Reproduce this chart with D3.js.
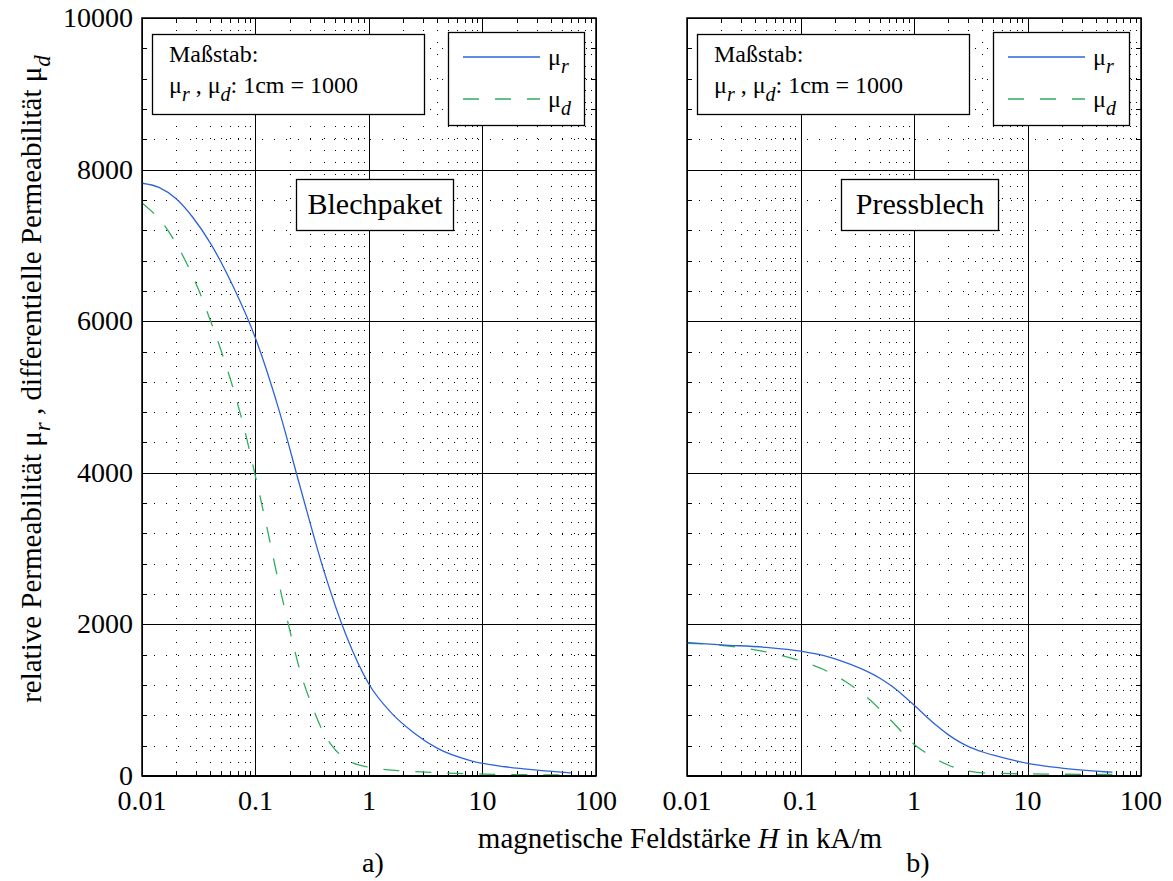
<!DOCTYPE html>
<html><head><meta charset="utf-8">
<script src="https://cdn.jsdelivr.net/npm/d3@7"></script>
<style>
body{margin:0;background:#fff}
svg text{font-family:"Liberation Serif","Times New Roman",serif;fill:#000}
</style></head><body>
<svg id="chart" width="1173" height="881"></svg>
<script>
// Axis ticks
const xTickValues = [0.01, 0.1, 1, 10, 100];
const xTickLabels = ["0.01", "0.1", "1", "10", "100"];
const yTickValues = [0, 2000, 4000, 6000, 8000, 10000];
const yTickLabels = ["0", "2000", "4000", "6000", "8000", "10000"];

// a) Blechpaket: field strength H (kA/m) and permeabilities
const blechH_r  = [0.01, 0.0141, 0.02, 0.0282, 0.04, 0.063, 0.1, 0.158, 0.251, 0.398, 0.631, 1, 1.58, 2.51, 3.98, 7.94, 15.8, 31.6, 60];
const blechMuR  = [7820, 7765, 7615, 7365, 7030, 6470, 5775, 4870, 3780, 2720, 1850, 1210, 830, 565, 367, 200, 122, 75, 42];
const blechH_d  = [0.01, 0.0158, 0.0251, 0.0316, 0.0398, 0.0501, 0.0631, 0.0794, 0.1, 0.126, 0.158, 0.2, 0.251, 0.316, 0.398, 0.501, 0.631, 1, 2, 4, 10, 60];
const blechMuD  = [7560, 7260, 6745, 6410, 6020, 5600, 5130, 4590, 3950, 3280, 2590, 1930, 1350, 920, 570, 352, 222, 115, 68, 43, 26, 12];

// b) Pressblech
const pressH_r  = [0.01, 0.02, 0.05, 0.1, 0.158, 0.251, 0.398, 0.501, 0.631, 0.794, 1, 1.26, 1.58, 2, 2.51, 3.16, 3.98, 5.01, 6.31, 7.94, 10, 20, 56];
const pressMuR  = [1760, 1730, 1697, 1648, 1590, 1495, 1370, 1290, 1190, 1070, 937, 796, 666, 546, 450, 375, 320, 275, 235, 200, 168, 105, 50];
const pressH_d  = [0.01, 0.02, 0.0398, 0.0631, 0.1, 0.158, 0.251, 0.316, 0.398, 0.501, 0.631, 0.794, 1, 1.26, 1.58, 2, 2.51, 3.16, 3.98, 7.94, 56];
const pressMuD  = [1751, 1725, 1665, 1602, 1518, 1408, 1243, 1138, 1020, 880, 728, 570, 420, 310, 220, 145, 92, 60, 42, 30, 20];

const panelNames = ["Blechpaket", "Pressblech"];
const panelTags = ["a)", "b)"];

const colR = "#2d63d8";
const colD = "#2fae5f";
const FONT_TICK = 28, FONT_TITLE = 29;

const svg = d3.select("#chart");
svg.append("rect").attr("width", 1173).attr("height", 881).attr("fill", "#fff");

const plotTop = 18, plotBottom = 776;
const panels = [
  {x0: 142, x1: 596, name: panelNames[0], tag: panelTags[0],
   r: blechH_r.map((h, i) => ({h, v: blechMuR[i]})),
   d: blechH_d.map((h, i) => ({h, v: blechMuD[i]})), yLabels: true},
  {x0: 687, x1: 1141, name: panelNames[1], tag: panelTags[1],
   r: pressH_r.map((h, i) => ({h, v: pressMuR[i]})),
   d: pressH_d.map((h, i) => ({h, v: pressMuD[i]})), yLabels: false}
];

const minorX = [];
[0.01, 0.1, 1, 10].forEach(dec => { for (let k = 2; k <= 9; k++) minorX.push(k * dec); });
const minorY = d3.range(0, 10001, 400).filter(v => v % 2000 !== 0);
const minorYTicks = d3.range(0, 10001, 400);

const px = v => Math.round(v) + 0.5;

panels.forEach((p, pi) => {
  const x = d3.scaleLog().domain([0.01, 100]).range([p.x0, p.x1]);
  const y = d3.scaleLinear().domain([0, 10000]).range([plotBottom, plotTop]);
  const g = svg.append("g");

  const clipId = "clip" + pi;
  svg.append("defs").append("clipPath").attr("id", clipId)
    .append("rect").attr("x", p.x0).attr("y", plotTop).attr("width", p.x1 - p.x0).attr("height", plotBottom - plotTop);

  // dotted minor grid
  g.selectAll(".mgx").data(minorX).join("line")
    .attr("x1", d => px(x(d))).attr("x2", d => px(x(d)))
    .attr("y1", plotTop).attr("y2", plotBottom)
    .attr("stroke", "#000").attr("stroke-width", 1).attr("stroke-dasharray", "1,11");
  g.selectAll(".mgy").data(minorY).join("line")
    .attr("y1", d => px(y(d))).attr("y2", d => px(y(d)))
    .attr("x1", p.x0).attr("x2", p.x1)
    .attr("stroke", "#000").attr("stroke-width", 1).attr("stroke-dasharray", "1,11");

  // solid major grid
  g.selectAll(".Mgx").data(xTickValues).join("line")
    .attr("x1", d => px(x(d))).attr("x2", d => px(x(d)))
    .attr("y1", plotTop).attr("y2", plotBottom)
    .attr("stroke", "#000").attr("stroke-width", 1);
  g.selectAll(".Mgy").data(yTickValues).join("line")
    .attr("y1", d => px(y(d))).attr("y2", d => px(y(d)))
    .attr("x1", p.x0).attr("x2", p.x1)
    .attr("stroke", "#000").attr("stroke-width", 1);

  // minor ticks on all four sides
  const tl = 5;
  g.selectAll(".tb").data(minorX).join("line")
    .attr("x1", d => px(x(d))).attr("x2", d => px(x(d)))
    .attr("y1", plotBottom).attr("y2", plotBottom - tl).attr("stroke", "#000");
  g.selectAll(".tt").data(minorX).join("line")
    .attr("x1", d => px(x(d))).attr("x2", d => px(x(d)))
    .attr("y1", plotTop).attr("y2", plotTop + tl).attr("stroke", "#000");
  g.selectAll(".tlf").data(minorYTicks).join("line")
    .attr("y1", d => px(y(d))).attr("y2", d => px(y(d)))
    .attr("x1", p.x0).attr("x2", p.x0 + tl).attr("stroke", "#000");
  g.selectAll(".trt").data(minorYTicks).join("line")
    .attr("y1", d => px(y(d))).attr("y2", d => px(y(d)))
    .attr("x1", p.x1).attr("x2", p.x1 - tl).attr("stroke", "#000");

  // curves
  const line = d3.line().x(d => x(d.h)).y(d => y(d.v)).curve(d3.curveMonotoneX);
  const cg = g.append("g").attr("clip-path", `url(#${clipId})`);
  cg.append("path").datum(p.d).attr("d", line).attr("fill", "none")
    .attr("stroke", colD).attr("stroke-width", 1.3).attr("stroke-dasharray", "16,16");
  cg.append("path").datum(p.r).attr("d", line).attr("fill", "none")
    .attr("stroke", colR).attr("stroke-width", 1.3);

  // axes frame
  g.append("rect").attr("x", p.x0).attr("y", plotTop).attr("width", p.x1 - p.x0).attr("height", plotBottom - plotTop)
    .attr("fill", "none").attr("stroke", "#000").attr("stroke-width", 1.5);
  g.append("line").attr("x1", p.x0).attr("x2", p.x1).attr("y1", plotBottom).attr("y2", plotBottom)
    .attr("stroke", "#000").attr("stroke-width", 2);

  // x tick labels
  g.selectAll(".xl").data(xTickValues).join("text")
    .attr("x", d => x(d)).attr("y", 810).attr("text-anchor", "middle")
    .attr("font-size", FONT_TICK).text((d, i) => xTickLabels[i]);

  if (p.yLabels) {
    g.selectAll(".yl").data(yTickValues).join("text")
      .attr("x", p.x0 - 9).attr("y", d => y(d) + 9).attr("text-anchor", "end")
      .attr("font-size", FONT_TICK).text((d, i) => yTickLabels[i]);
  }

  // scale note box
  const nb = g.append("g");
  nb.append("rect").attr("x", p.x0 + 10.5).attr("y", 34.5).attr("width", 272).attr("height", 80)
    .attr("fill", "#fff").attr("stroke", "#000").attr("stroke-width", 1.3);
  nb.append("text").attr("x", p.x0 + 27).attr("y", 62).attr("font-size", 24).text("Maßstab:");
  const t2 = nb.append("text").attr("x", p.x0 + 27).attr("y", 93).attr("font-size", 24);
  t2.append("tspan").text("μ");
  t2.append("tspan").attr("font-style", "italic").attr("font-size", 20).attr("dy", 8).text("r");
  t2.append("tspan").attr("dy", -8).text(" , μ");
  t2.append("tspan").attr("font-style", "italic").attr("font-size", 20).attr("dy", 8).text("d");
  t2.append("tspan").attr("dy", -8).text(": 1cm = 1000");

  // legend
  const lx = p.x0 + 306, ly = 32;
  const lg = g.append("g");
  lg.append("rect").attr("x", lx + 0.5).attr("y", ly + 0.5).attr("width", 136).attr("height", 93)
    .attr("fill", "#fff").attr("stroke", "#000").attr("stroke-width", 1.3);
  lg.append("line").attr("x1", lx + 15).attr("x2", lx + 92).attr("y1", 57).attr("y2", 57)
    .attr("stroke", colR).attr("stroke-width", 1.3);
  lg.append("line").attr("x1", lx + 15).attr("x2", lx + 92).attr("y1", 99).attr("y2", 99)
    .attr("stroke", colD).attr("stroke-width", 1.3).attr("stroke-dasharray", "16,16");
  const lr = lg.append("text").attr("x", lx + 100).attr("y", 65).attr("font-size", 24);
  lr.append("tspan").text("μ");
  lr.append("tspan").attr("font-style", "italic").attr("font-size", 20).attr("dy", 8).text("r");
  const ld = lg.append("text").attr("x", lx + 100).attr("y", 107).attr("font-size", 24);
  ld.append("tspan").text("μ");
  ld.append("tspan").attr("font-style", "italic").attr("font-size", 20).attr("dy", 8).text("d");

  // panel title box
  const tb = g.append("g");
  tb.append("rect").attr("x", p.x0 + 154.5).attr("y", 179.5).attr("width", 157).attr("height", 51)
    .attr("fill", "#fff").attr("stroke", "#000").attr("stroke-width", 1.3);
  tb.append("text").attr("x", p.x0 + 154.5 + 78.5).attr("y", 214).attr("text-anchor", "middle")
    .attr("font-size", 30).text(p.name);

  // panel tag
  svg.append("text").attr("x", (p.x0 + p.x1) / 2 + 4).attr("y", 872).attr("text-anchor", "middle")
    .attr("font-size", FONT_TICK).text(p.tag);
});

// x axis title
const xt = svg.append("text").attr("x", 680).attr("y", 848).attr("text-anchor", "middle").attr("font-size", FONT_TITLE);
xt.append("tspan").text("magnetische Feldstärke ");
xt.append("tspan").attr("font-style", "italic").text("H");
xt.append("tspan").text(" in kA/m");

// y axis title
const yt = svg.append("text").attr("transform", "translate(41,379) rotate(-90)")
  .attr("text-anchor", "middle").attr("font-size", FONT_TITLE);
yt.append("tspan").text("relative Permeabilität  μ");
yt.append("tspan").attr("font-style", "italic").attr("font-size", 23).attr("dy", 9).text("r");
yt.append("tspan").attr("dy", -9).text(" , differentielle Permeabilität  μ");
yt.append("tspan").attr("font-style", "italic").attr("font-size", 23).attr("dy", 9).text("d");
</script>
</body></html>
